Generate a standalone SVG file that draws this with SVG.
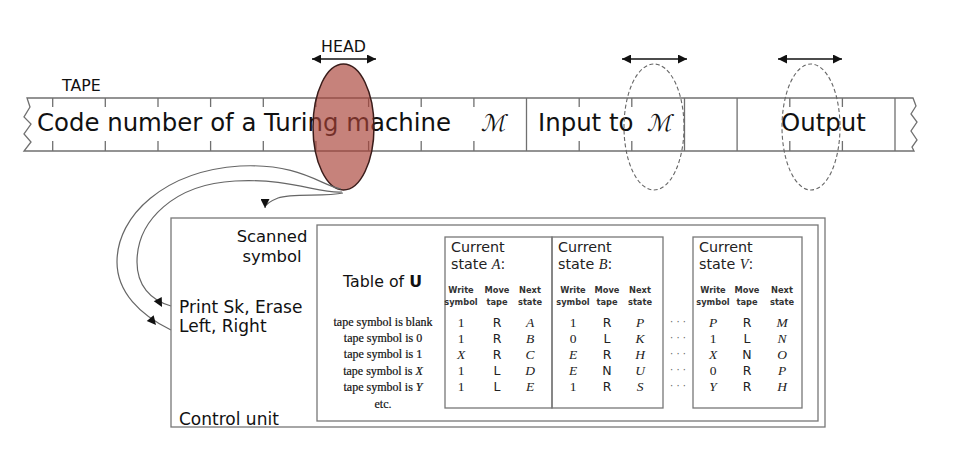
<svg xmlns="http://www.w3.org/2000/svg" width="960" height="460" viewBox="0 0 960 460">
<defs>
<style>
.tl{stroke:#707070;stroke-width:1.3;fill:none}
.big{font-family:"DejaVu Sans",sans-serif;font-size:24.4px;fill:#111}
.scr{font-family:"DejaVu Sans",sans-serif;font-size:23px;fill:#111}
.lbl{font-family:"DejaVu Sans",sans-serif;font-size:15.8px;fill:#111}
.cu{font-family:"DejaVu Sans",sans-serif;font-size:17px;fill:#111}
.hd{font-family:"DejaVu Sans",sans-serif;font-size:14.3px;fill:#222}
.it{font-family:"Liberation Serif",serif;font-style:italic}
.col{font-family:"DejaVu Sans Condensed","DejaVu Sans",sans-serif;font-stretch:condensed;font-weight:bold;font-size:9.2px;fill:#333;text-anchor:middle}
.num{font-family:"Liberation Serif",serif;font-size:13.5px;fill:#222;text-anchor:middle}
.mv{font-family:"DejaVu Sans",sans-serif;font-size:12.5px;fill:#222;text-anchor:middle}
.rl{font-family:"Liberation Serif",serif;font-size:12px;fill:#111;text-anchor:middle;stroke:#111;stroke-width:0.2}
.dots{font-family:"DejaVu Sans",sans-serif;font-size:10px;fill:#666;text-anchor:middle}
.box{fill:none;stroke:#777;stroke-width:1.3}
.con{fill:none;stroke:#666;stroke-width:1.2}
.dash{fill:none;stroke:#666;stroke-width:1.1;stroke-dasharray:4 2.5}
</style>
<marker id="ah" viewBox="0 0 10 10" refX="10" refY="5" markerWidth="10" markerHeight="9" markerUnits="userSpaceOnUse" orient="auto-start-reverse">
<path d="M0,0 L10,5 L0,10 Z" fill="#111"/>
</marker>
<path id="tri" d="M0,0 L-9,-4.5 L-9,4.5 Z" fill="#111"/>
</defs>
<rect width="960" height="460" fill="#fff"/>

<g id="tape">
<path class="tl" d="M27,98 H913 L916,106 L911,114 L917,122 L911,131 L917,140 L912,147 L914,151 H24 L31,142 L24,134 L31,124 L24,117 L30,107 Z"/>
<path class="tl" d="M52.7,98 V107 M52.7,141 V151 M105.3,98 V107 M105.3,141 V151 M158,98 V107 M158,141 V151 M210.6,98 V107 M210.6,141 V151 M263.3,98 V107 M263.3,141 V151 M315.9,98 V107 M315.9,141 V151 M368.6,98 V107 M368.6,141 V151 M421.2,98 V107 M421.2,141 V151 M473.9,98 V107 M473.9,141 V151 M526.5,98 V151 M579.2,98 V107 M579.2,141 V151 M631.8,98 V107 M631.8,141 V151 M684.5,98 V151 M737.1,98 V151 M789.8,98 V107 M789.8,141 V151 M842.4,98 V107 M842.4,141 V151 M895,98 V151"/>
<text class="lbl" x="62" y="91">TAPE</text>
<text class="big" x="37" y="131">Code number of a Turing machine</text>
<text class="scr" transform="translate(493,131) skewX(-14)" text-anchor="middle">ℳ</text>
<text class="big" x="538" y="131">Input to</text>
<text class="scr" transform="translate(659,131) skewX(-14)" text-anchor="middle">ℳ</text>
<text class="big" x="781" y="131">Output</text>
</g>

<g id="head">
<text class="lbl" x="343.5" y="52" text-anchor="middle">HEAD</text>
<line x1="312" y1="59" x2="376" y2="59" stroke="#111" stroke-width="1.3" marker-start="url(#ah)" marker-end="url(#ah)"/>
<ellipse cx="343.5" cy="127" rx="30.5" ry="63" fill="#a94237" fill-opacity="0.66" stroke="#3a1c1a" stroke-width="1.5"/>
</g>

<g id="window-input">
<line x1="622" y1="59" x2="687" y2="59" stroke="#111" stroke-width="1.3" marker-start="url(#ah)" marker-end="url(#ah)"/>
<ellipse class="dash" cx="654" cy="127" rx="30" ry="63"/>
</g>

<g id="window-output">
<line x1="778" y1="59" x2="842" y2="59" stroke="#111" stroke-width="1.3" marker-start="url(#ah)" marker-end="url(#ah)"/>
<ellipse class="dash" cx="811" cy="127" rx="29" ry="63"/>
</g>

<g id="connectors">
<path class="con" d="M341,189 C322,186 300,163 240,166 C165,171 117,215 117,262 C117,292 140,315 171,330"/>
<path class="con" d="M342,192 C320,194 290,178 235,181 C175,184 137,220 137,262 C137,285 150,300 171,306"/>
<path class="con" d="M343,193 C325,197 292,193 278,198 C268,202 265,205 265,208" marker-end="url(#ah)"/>
<use href="#tri" transform="translate(162,307) rotate(62)"/>
<use href="#tri" transform="translate(156,325) rotate(50)"/>
</g>

<g id="control-unit">
<rect class="box" x="171" y="218" width="654" height="209"/>
<text class="lbl" x="272" y="242" text-anchor="middle" style="font-size:16.4px">Scanned</text>
<text class="lbl" x="272" y="262" text-anchor="middle" style="font-size:16.4px">symbol</text>
<text class="cu" x="179" y="313">Print Sk, Erase</text>
<text class="cu" x="179" y="332">Left, Right</text>
<text class="cu" x="179" y="425">Control unit</text>
</g>

<g id="table">
<rect class="box" x="317" y="225" width="501" height="196" stroke="#888"/>
<text class="lbl" x="382.5" y="287" text-anchor="middle">Table of <tspan font-weight="bold">U</tspan></text>
<text class="rl" x="383" y="326">tape symbol is blank</text>
<text class="rl" x="383" y="342">tape symbol is 0</text>
<text class="rl" x="383" y="358">tape symbol is 1</text>
<text class="rl" x="383" y="375">tape symbol is <tspan font-style="italic">X</tspan></text>
<text class="rl" x="383" y="391">tape symbol is <tspan font-style="italic">Y</tspan></text>
<text class="rl" x="383" y="408">etc.</text>
</g>

<g id="state-A">
<rect class="box" x="445" y="237" width="107" height="171" stroke="#666"/>
<text class="hd" x="451" y="252">Current</text>
<text class="hd" x="451" y="269">state <tspan class="it">A</tspan>:</text>
<text class="col" x="461" y="293">Write</text><text class="col" x="461" y="305">symbol</text>
<text class="col" x="497" y="293">Move</text><text class="col" x="497" y="305">tape</text>
<text class="col" x="530" y="293">Next</text><text class="col" x="530" y="305">state</text>
<text class="num" x="461" y="327">1</text><text class="mv" x="497" y="327">R</text><text class="num it" x="530" y="327">A</text>
<text class="num" x="461" y="343">1</text><text class="mv" x="497" y="343">R</text><text class="num it" x="530" y="343">B</text>
<text class="num it" x="461" y="359">X</text><text class="mv" x="497" y="359">R</text><text class="num it" x="530" y="359">C</text>
<text class="num" x="461" y="375">1</text><text class="mv" x="497" y="375">L</text><text class="num it" x="530" y="375">D</text>
<text class="num" x="461" y="391">1</text><text class="mv" x="497" y="391">L</text><text class="num it" x="530" y="391">E</text>
</g>

<g id="state-B">
<rect class="box" x="552" y="237" width="111" height="171" stroke="#555"/>
<text class="hd" x="558" y="252">Current</text>
<text class="hd" x="558" y="269">state <tspan class="it">B</tspan>:</text>
<text class="col" x="573" y="293">Write</text><text class="col" x="573" y="305">symbol</text>
<text class="col" x="607" y="293">Move</text><text class="col" x="607" y="305">tape</text>
<text class="col" x="640" y="293">Next</text><text class="col" x="640" y="305">state</text>
<text class="num" x="573" y="327">1</text><text class="mv" x="607" y="327">R</text><text class="num it" x="640" y="327">P</text>
<text class="num" x="573" y="343">0</text><text class="mv" x="607" y="343">L</text><text class="num it" x="640" y="343">K</text>
<text class="num it" x="573" y="359">E</text><text class="mv" x="607" y="359">R</text><text class="num it" x="640" y="359">H</text>
<text class="num it" x="573" y="375">E</text><text class="mv" x="607" y="375">N</text><text class="num it" x="640" y="375">U</text>
<text class="num" x="573" y="391">1</text><text class="mv" x="607" y="391">R</text><text class="num it" x="640" y="391">S</text>
</g>

<g id="ellipsis">
<text class="dots" x="678" y="325">· · ·</text>
<text class="dots" x="678" y="341">· · ·</text>
<text class="dots" x="678" y="357">· · ·</text>
<text class="dots" x="678" y="373">· · ·</text>
<text class="dots" x="678" y="389">· · ·</text>
</g>

<g id="state-V">
<rect class="box" x="693" y="237" width="109" height="171" stroke="#999"/>
<text class="hd" x="699" y="252">Current</text>
<text class="hd" x="699" y="269">state <tspan class="it">V</tspan>:</text>
<text class="col" x="713" y="293">Write</text><text class="col" x="713" y="305">symbol</text>
<text class="col" x="747" y="293">Move</text><text class="col" x="747" y="305">tape</text>
<text class="col" x="782" y="293">Next</text><text class="col" x="782" y="305">state</text>
<text class="num it" x="713" y="327">P</text><text class="mv" x="747" y="327">R</text><text class="num it" x="782" y="327">M</text>
<text class="num" x="713" y="343">1</text><text class="mv" x="747" y="343">L</text><text class="num it" x="782" y="343">N</text>
<text class="num it" x="713" y="359">X</text><text class="mv" x="747" y="359">N</text><text class="num it" x="782" y="359">O</text>
<text class="num" x="713" y="375">0</text><text class="mv" x="747" y="375">R</text><text class="num it" x="782" y="375">P</text>
<text class="num it" x="713" y="391">Y</text><text class="mv" x="747" y="391">R</text><text class="num it" x="782" y="391">H</text>
</g>
</svg>
